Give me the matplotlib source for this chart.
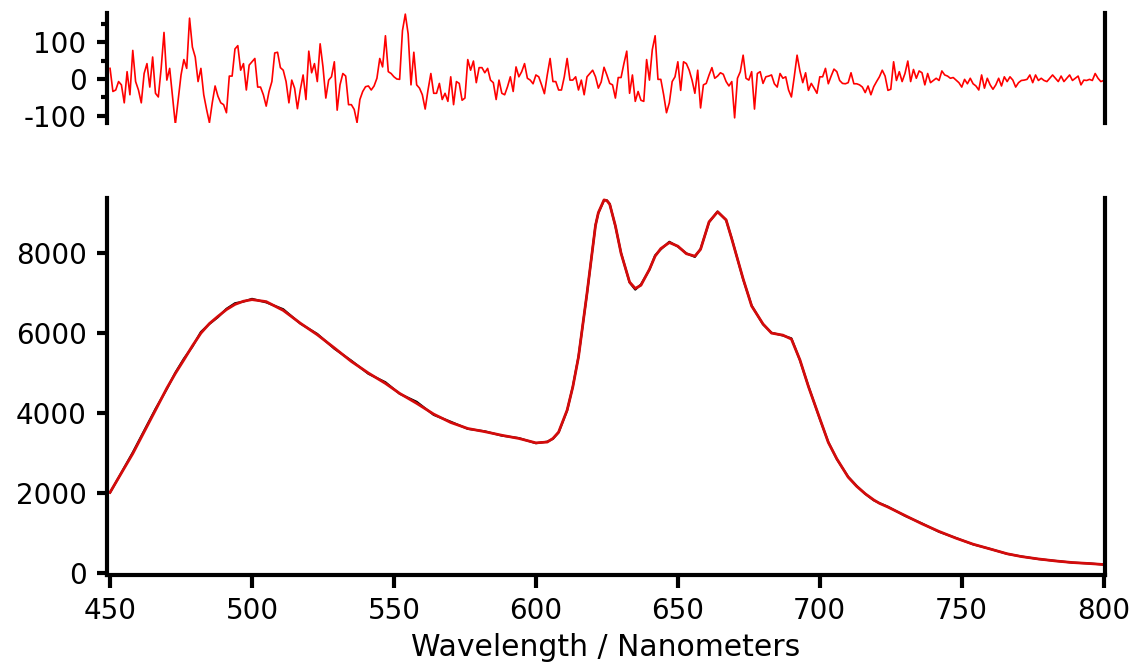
import numpy as np
import matplotlib
matplotlib.use("Agg")
import matplotlib.pyplot as plt
from matplotlib.ticker import MultipleLocator

plt.rcParams["axes.unicode_minus"] = False

fit_nm = [450, 458, 466, 470, 473, 476, 479, 482, 485, 488, 491, 494, 497, 500,
          505, 511, 517, 523, 529, 535, 541, 547, 552, 558, 564, 570, 576, 582,
          588, 594, 600, 604, 606, 608, 611, 613, 615, 618, 621, 622, 624, 625,
          626, 628, 630, 633, 635, 637, 640, 642, 644, 647, 650, 653, 656, 658,
          661, 664, 667, 669, 673, 676, 680, 683, 687, 690, 693, 696, 700, 703,
          706, 710, 713, 716, 719, 721, 724, 730, 736, 742, 748, 754, 760, 766,
          771, 777, 783, 789, 795, 800]
fit_counts = [2010, 2980, 4070, 4620, 4990, 5330, 5680, 6000, 6240, 6420, 6590,
              6720, 6800, 6840, 6790, 6570, 6250, 5960, 5630, 5290, 5000, 4740,
              4490, 4240, 3970, 3760, 3610, 3530, 3440, 3360, 3250, 3270, 3360,
              3520, 4070, 4650, 5400, 7000, 8700, 9020, 9340, 9320, 9230, 8690,
              8000, 7280, 7120, 7200, 7600, 7930, 8120, 8270, 8180, 7990, 7930,
              8100, 8790, 9040, 8840, 8360, 7360, 6680, 6230, 6000, 5950, 5850,
              5330, 4660, 3860, 3260, 2850, 2390, 2160, 1975, 1820, 1735, 1640,
              1430, 1220, 1030, 860, 710, 590, 470, 400, 340, 290, 250, 225, 200]
data_counts = [2000, 3010, 4100, 4600, 5010, 5360, 5660, 6030, 6230, 6400, 6610,
               6750, 6790, 6860, 6770, 6600, 6240, 5980, 5610, 5310, 4980, 4770,
               4480, 4280, 3950, 3780, 3600, 3540, 3430, 3370, 3240, 3280, 3350,
               3510, 4060, 4660, 5410, 6990, 8710, 9010, 9330, 9330, 9240, 8680,
               8010, 7270, 7090, 7220, 7590, 7950, 8100, 8290, 8170, 8000, 7910,
               8110, 8780, 9050, 8830, 8370, 7350, 6690, 6220, 6010, 5940, 5870,
               5320, 4670, 3850, 3270, 2840, 2400, 2170, 1970, 1810, 1740, 1650,
               1420, 1230, 1020, 865, 705, 592, 467, 403, 337, 292, 248, 227, 199]

# Residuals (data - fit), one per nm from 450 to 800
resid_nm = np.arange(450, 801)
residuals = [
    29, -34, -30, -7, -16, -65, 20, -43, 78, -7,
    -30, -65, 15, 42, -22, 60, -39, -49, 29, 127,
    -3, 29, -47, -124, -56, 11, 53, 29, 166, 87,
    60, -7, 29, -43, -83, -119, -65, -19, -47, -65,
    -70, -92, 8, 8, 82, 91, 24, 42, -30, 38,
    47, 56, -22, -22, -43, -74, -34, -7, 71, 73,
    31, 24, -7, -65, -3, -25, -81, -30, 11, -56,
    76, 17, 42, -7, 96, 33, -52, -3, 6, 47,
    -85, -16, 15, 8, -70, -70, -83, -119, -56,
    -34, -21, -19, -30, -19, 2, 56, 33, 118, 20,
    15, 6, 0, -1, 132, 177, 123, -16, 73, -16,
    -25, -43, -82, -30, 15, -39, -39, -12, -56, -39,
    -61, 6, -70, -7, -12, -58, -52, 53, 24, 49,
    -10, 31, 31, 17, 29, -3, -10, -56, -3, -39,
    -43, -21, 6, -34, 33, 6, 20, 42, 2, -3,
    -13, 11, 6, -16, -40, 11, 56, -7, -7, -30,
    -30, 6, 56, -3, -3, 6, -30, -3, -43, 6,
    15, 24, 6, -25, -8, 32, 11, -12,
    -16, -52, 4, 4, 42, 76, -39, 11, -61, -34,
    -58, -61, 53, -3, 80, 118, -1, -1, -43, -92,
    -65, -7, 6, 47, -31, 47, 42, 24, -3, -39,
    24, -79, -16, -12, 11, 31, 2, 8, 17, 13,
    -7, -19, -7, -106, 2, 20, 65, 2, -3, 20,
    -82, 15, 20, -12, 6, 8, 11, -13, -22, 15,
    2, 6, -30, -49, 6, 65, 22, -10, 17, -31,
    -12, -25, -39, 6, 6, 29, -13, 8, 27, 20,
    -4, -12, -13, -10,
    17, -13, -13, -16, -22, -37, -19, -43, -21, -7,
    6, 24, 8, -31, -28, 47, -4, 20, -7, 15,
    49, -7, 26, 2, 22, 17, -16, 15, -10, -4,
    2, -4, 22, 11, 8, 2, 4, -3, -10, -22,
    -1, -13, 2, -13, -19, -30, 11, -25, 2, -16,
    -28, -16, 2, -19, 6, -7, 6, -3, -22, -10,
    -4, -3, -1, 11, -10, 11, -4, 2, -4, -7,
    2, 11, 2, -7, 8, -7, 2, 11, -4, 2,
    8, -16, -3, -4, -1, -4, 15, 2, -7, -4,
]

fig = plt.figure(figsize=(11.37, 6.71), dpi=100)
ax_res = fig.add_axes([0.0938, 0.8167, 0.8784, 0.1639])
ax = fig.add_axes([0.0938, 0.1438, 0.8784, 0.5607])

spine_w = 3.0

# residual panel
ax_res.plot(resid_nm, residuals, color="#ff0000", lw=1.2)
ax_res.set_xlim(448.8, 800.6)
ax_res.set_ylim(-120, 180)
ax_res.spines["top"].set_visible(False)
ax_res.spines["bottom"].set_visible(False)
for s in ("left", "right"):
    ax_res.spines[s].set_linewidth(spine_w)
ax_res.set_xticks([])
ax_res.set_yticks([-100, 0, 100])
ax_res.yaxis.set_minor_locator(MultipleLocator(50))
ax_res.tick_params(axis="y", which="major", direction="out", length=7.5,
                   width=spine_w, labelsize=20, pad=7)
ax_res.tick_params(axis="y", which="minor", direction="out", length=4,
                   width=spine_w)

# main spectrum panel
ax.plot(fit_nm, data_counts, color="black", lw=1.5)
ax.plot(fit_nm, fit_counts, color="#d40b0b", lw=2.0)
ax.set_xlim(448.8, 800.6)
ax.set_ylim(-50, 9380)
ax.spines["top"].set_visible(False)
for s in ("left", "right", "bottom"):
    ax.spines[s].set_linewidth(spine_w)
ax.set_xticks(range(450, 801, 50))
ax.set_yticks(range(0, 8001, 2000))
ax.tick_params(axis="y", direction="out", length=7.5, width=spine_w,
               labelsize=20, pad=7)
ax.tick_params(axis="x", direction="out", length=9, width=spine_w,
               labelsize=20, pad=7)
ax.set_xlabel("Wavelength / Nanometers", fontsize=21.5, labelpad=6)

fig.savefig("out.png", dpi=100)
